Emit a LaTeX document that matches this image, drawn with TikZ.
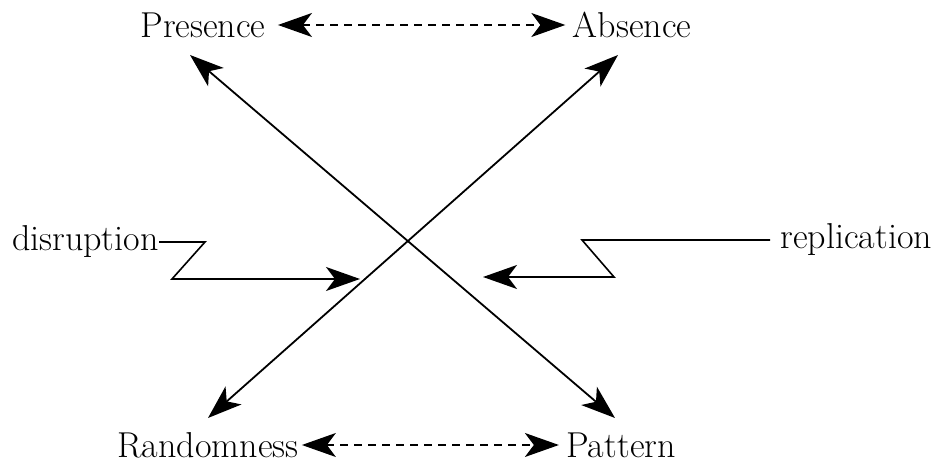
\documentclass[tikz,border=0pt]{standalone}
\usepackage{tikz}
\usetikzlibrary{arrows.meta,positioning}

\begin{document}
\begin{tikzpicture}[x=0.5pt,y=-0.5pt,
    term/.style={inner sep=0pt,font=\fontsize{18}{21}\selectfont},
    bigtip/.style={-{Stealth[length=17pt,width=12pt,inset=4.5pt]}},
    twotip/.style={{Stealth[length=17pt,width=12pt,inset=4.5pt]}-{Stealth[length=17pt,width=12pt,inset=4.5pt]}},
    pairline/.style={twotip,line width=0.65pt,dash pattern=on 4pt off 3pt},
    crossline/.style={twotip,line width=0.9pt},
    zigline/.style={bigtip,line width=0.8pt}]
  \useasboundingbox (0,0) rectangle (943,469);

  % the four terms
  \node[term] (pres) at (203,25) {Presence};
  \node[term] (abs)  at (632,25) {Absence};
  \node[term] (rand) at (208,445) {Randomness};
  \node[term] (patt) at (621,445) {Pattern};

  % the two forces
  \node[term,anchor=east] (disr) at (159,242) {disruption};
  \node[term,anchor=west] (repl) at (780,240) {replication};

  % dashed pairs
  \draw[pairline] ([xshift=6pt]pres.east) -- ([xshift=-3.5pt]pres.east -| abs.west);
  \draw[pairline] ([xshift=1.5pt]rand.east) -- ([xshift=-3.5pt]rand.east -| patt.west);

  % the big cross
  \coordinate (presTip) at (190,55);
  \coordinate (pattTip) at (615,418);
  \coordinate (randTip) at (208,418);
  \coordinate (absTip)  at (618,55);
  \draw[crossline] (presTip) -- (pattTip);
  \draw[crossline] (randTip) -- (absTip);

  % zigzags into the cross
  \coordinate (disrEnd) at (360,279);
  \coordinate (replEnd) at (483,277);
  \draw[zigline] (disr.east) -- (205,242) -- (172,279) -- (disrEnd);
  \draw[zigline] ([xshift=-5pt]repl.west) -- (582,240) -- (614,277) -- (replEnd);
\end{tikzpicture}
\end{document}
